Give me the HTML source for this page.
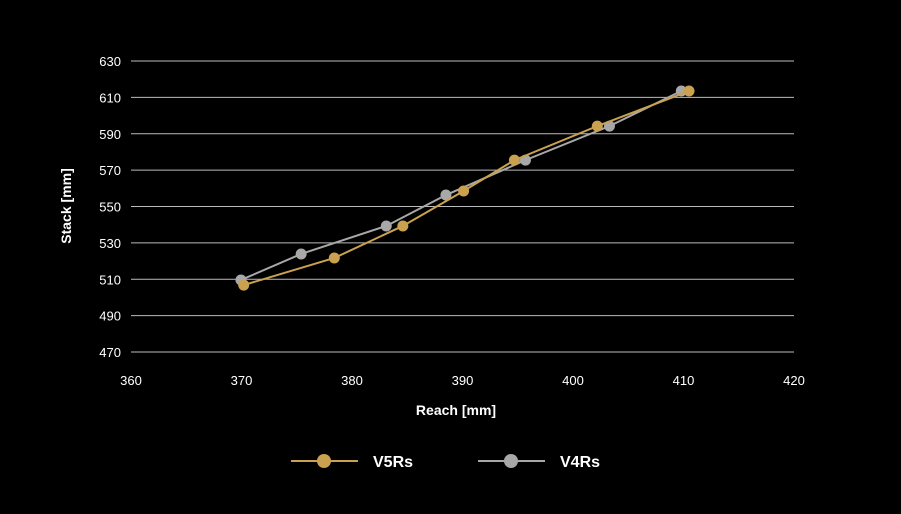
<!DOCTYPE html>
<html><head><meta charset="utf-8"><style>
body{margin:0;background:#000;}
svg{display:block;font-family:"Liberation Sans",sans-serif;}
</style></head><body>
<svg id="c" width="901" height="514"></svg>
<script>
const xTicks=[360,370,380,390,400,410,420];
const yTicks=[470,490,510,530,550,570,590,610,630];
const v5Reach=[370.2,378.4,384.6,390.1,394.7,402.2,410.5];
const v5Stack=[506.8,521.7,539.3,558.5,575.5,594.2,613.5];
const v4Reach=[369.95,375.4,383.1,388.5,395.7,403.3,409.8];
const v4Stack=[509.6,523.9,539.3,556.3,575.5,594.2,613.5];
const NS="http://www.w3.org/2000/svg";
const svg=document.getElementById('c');
const X=v=>131+(v-360)*(794-131)/60;
const Y=v=>352-(v-470)*(352-61)/160;
function mk(t,a,p){const e=document.createElementNS(NS,t);for(const k in a)e.setAttribute(k,a[k]);(p||svg).appendChild(e);return e;}
yTicks.forEach(t=>{
 const l=mk('line',{x1:131,x2:794,y1:Y(t),y2:Y(t),stroke:'#bbb','stroke-width':1});
 
 
 const tx=mk('text',{x:121,y:Y(t)+5,fill:'#fff','font-size':13,'text-anchor':'end'});
 tx.textContent=t;
 
 
});
xTicks.forEach(t=>{
 const tx=mk('text',{x:X(t),y:385,fill:'#fff','font-size':13,'text-anchor':'middle'});
 tx.textContent=t;
 
 
});
let t1=mk('text',{x:456,y:415,fill:'#fff','font-size':14,'font-weight':'bold','text-anchor':'middle'});t1.textContent='Reach [mm]';


let t2=mk('text',{x:71,y:206,fill:'#fff','font-size':14,'font-weight':'bold','text-anchor':'middle',transform:'rotate(-90 71 206)'});t2.textContent='Stack [mm]';


function series(xs,ys,col,name){
 const g=mk('g',{});
 
 
 mk('polyline',{points:xs.map((x,i)=>X(x)+','+Y(ys[i])).join(' '),fill:'none',stroke:col,'stroke-width':2},g);
 xs.forEach((x,i)=>{const c=mk('circle',{cx:X(x),cy:Y(ys[i]),r:5.5,fill:col},g);
  
  });
}
series(v4Reach,v4Stack,'#a8a8a8','v4rs');
series(v5Reach,v5Stack,'#c9a14f','v5rs');
function legend(x,col,label){
 const g=mk('g',{});
 
 
 mk('line',{x1:x,x2:x+67,y1:461,y2:461,stroke:col,'stroke-width':2},g);
 mk('circle',{cx:x+33,cy:461,r:7,fill:col},g);
 const t=mk('text',{x:x+82,y:467,fill:'#fff','font-size':16,'font-weight':'bold'},g);t.textContent=label;
}
legend(291,'#c9a14f','V5Rs');
legend(478,'#a8a8a8','V4Rs');
</script>
</body></html>
